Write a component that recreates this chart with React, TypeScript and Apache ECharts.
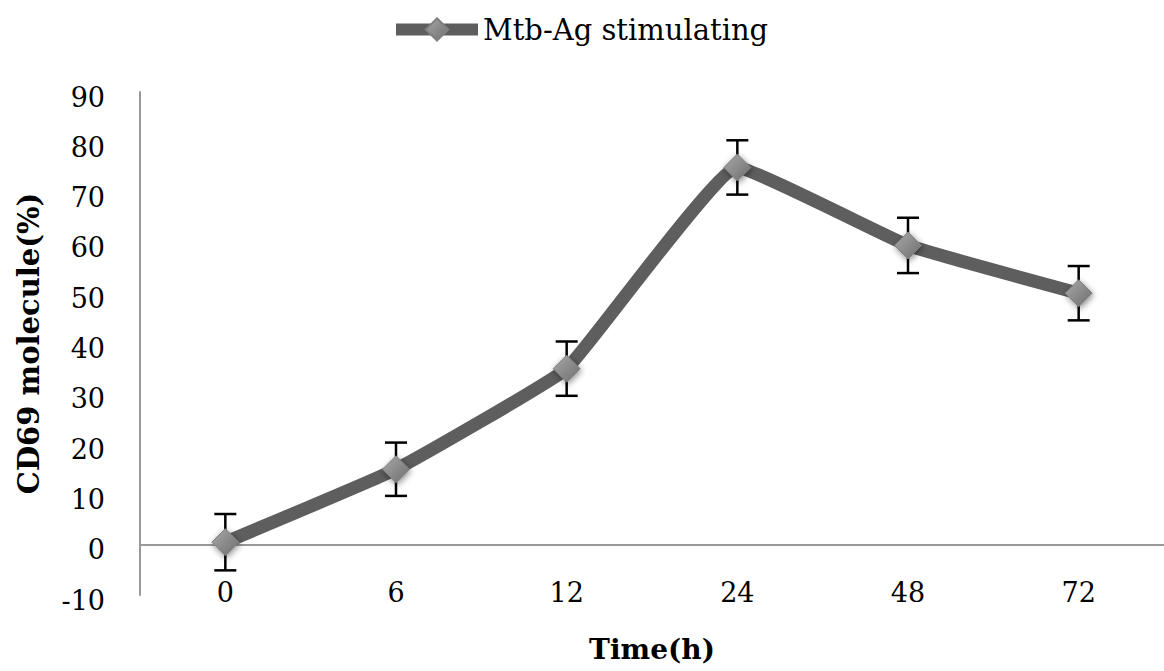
import React, { useEffect, useRef } from "react";
import * as echarts from "echarts";

const categories = ["0", "6", "12", "24", "48", "72"];
const seriesName = "Mtb-Ag stimulating";
const values = [0.5, 15, 35, 75, 59.5, 50];
const errors = [5.6, 5.3, 5.4, 5.4, 5.5, 5.4];
const yTicks = { min: -10, max: 90, interval: 10 };
const xTitle = "Time(h)";
const yTitle = "CD69 molecule(%)";

const FONT = "DejaVu Serif";

export default function App() {
  const ref = useRef<HTMLDivElement>(null);
  useEffect(() => {
    if (!ref.current) return;
    const chart = echarts.init(ref.current, null, { renderer: "svg" });
    const errData = values.map((v, i) => [i, v - errors[i], v + errors[i]]);
    const markerFill = new echarts.graphic.LinearGradient(0, 0, 1, 1, [
      { offset: 0, color: "#a8a8a8" },
      { offset: 1, color: "#6e6e6e" },
    ]);
    chart.setOption({
      animation: false,
      backgroundColor: "#ffffff",
      textStyle: { fontFamily: FONT },
      legend: {
        data: [seriesName],
        left: 390,
        top: 15,
        padding: 0,
        itemWidth: 82,
        itemHeight: 28,
        itemGap: 5,
        lineStyle: { width: 12, color: "#5e5e5e" },
        textStyle: { fontFamily: FONT, fontSize: 29, color: "#000" },
      },
      grid: { left: 140, right: -5, top: 92, bottom: 76 },
      xAxis: {
        type: "category",
        data: categories,
        boundaryGap: true,
        axisLine: { show: false, onZero: false },
        axisTick: { show: false },
        axisLabel: { fontFamily: FONT, fontSize: 27, color: "#000", margin: -16 },
        name: xTitle,
        nameLocation: "middle",
        nameGap: 40,
        nameTextStyle: { fontFamily: FONT, fontSize: 28, fontWeight: "bold", color: "#000" },
      },
      yAxis: {
        type: "value",
        min: yTicks.min,
        max: yTicks.max,
        interval: yTicks.interval,
        axisLine: { show: true, lineStyle: { color: "#999", width: 2 } },
        axisTick: { show: false },
        splitLine: { show: false },
        axisLabel: {
          fontFamily: FONT,
          fontSize: 27,
          color: "#000",
          margin: 35,
          verticalAlign: "top",
          lineHeight: 10,
        },
        name: yTitle,
        nameLocation: "middle",
        nameGap: 97,
        nameTextStyle: { fontFamily: FONT, fontSize: 29, fontWeight: "bold", color: "#000" },
      },
      series: [
        {
          type: "custom",
          name: "err",
          z: 1,
          silent: true,
          data: errData,
          renderItem: (params: any, api: any) => {
            const i = api.value(0);
            const lo = api.coord([i, api.value(1)]);
            const hi = api.coord([i, api.value(2)]);
            const hw = 11;
            const style = { stroke: "#000", lineWidth: 2.5 };
            return {
              type: "group",
              children: [
                { type: "line", shape: { x1: hi[0], y1: hi[1], x2: lo[0], y2: lo[1] }, style },
                { type: "line", shape: { x1: hi[0] - hw, y1: hi[1], x2: hi[0] + hw, y2: hi[1] }, style },
                { type: "line", shape: { x1: lo[0] - hw, y1: lo[1], x2: lo[0] + hw, y2: lo[1] }, style },
              ],
            };
          },
        },
        {
          type: "line",
          name: seriesName,
          z: 3,
          data: values,
          smooth: 0.1,
          symbol: "diamond",
          symbolSize: 27,
          lineStyle: { color: "#5e5e5e", width: 13 },
          itemStyle: {
            color: markerFill,
            borderColor: "#808080",
            borderWidth: 1,
            shadowBlur: 6,
            shadowColor: "rgba(0,0,0,0.45)",
            shadowOffsetX: 1,
            shadowOffsetY: 2,
          },
          markLine: {
            silent: true,
            symbol: "none",
            label: { show: false },
            z: 0,
            lineStyle: { color: "#999", width: 2, type: "solid" },
            data: [{ yAxis: 0 }],
          },
        },
      ],
    });
    return () => chart.dispose();
  }, []);
  return (
    <div
      ref={ref}
      style={{ position: "fixed", left: 0, top: 0, width: 1164, height: 671, background: "#fff" }}
    />
  );
}
